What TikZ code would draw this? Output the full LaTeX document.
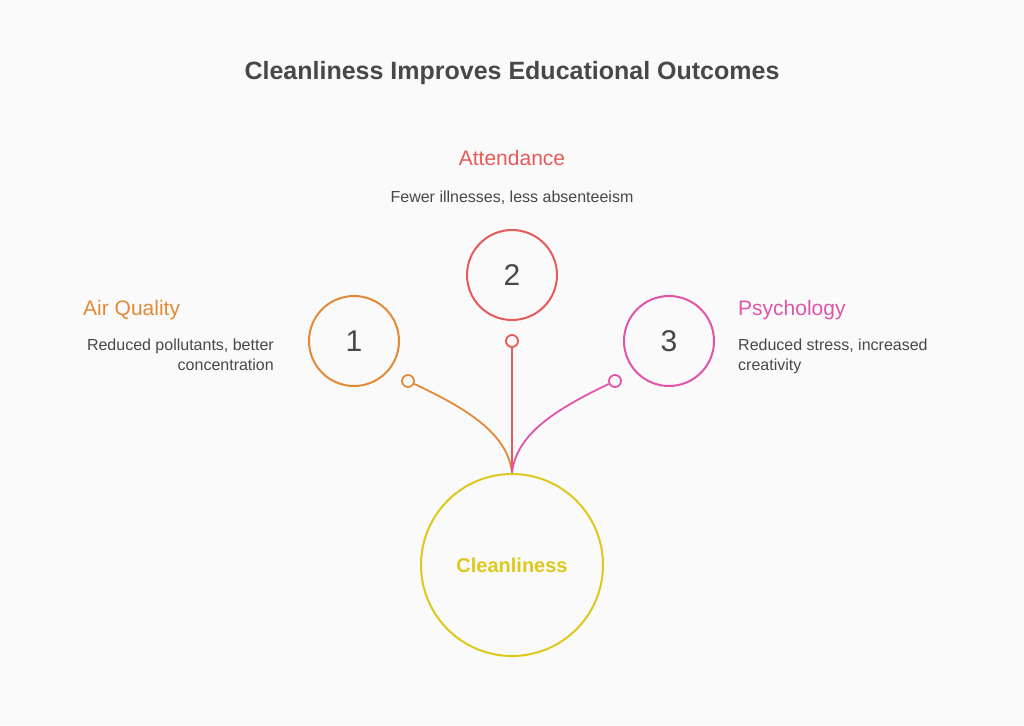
\documentclass[tikz,border=0pt]{standalone}
\usepackage{fontspec}
\setmainfont{Liberation Sans}
\usepackage{tikz}

\definecolor{bgcol}{HTML}{FAFAFA}
\definecolor{txtcol}{HTML}{484848}
\definecolor{orangecol}{HTML}{E38A38}
\definecolor{redcol}{HTML}{E65A5A}
\definecolor{pinkcol}{HTML}{E055AA}
\definecolor{yellowcol}{HTML}{DEC81C}

\begin{document}
\begin{tikzpicture}[x=1pt,y=-1pt,
    num/.style = {draw, circle, line width=2pt, minimum size=90pt, inner sep=0pt, text=txtcol, font=\fontsize{30}{32}\selectfont},
    dot/.style = {draw, circle, line width=1.8pt, minimum size=12pt, inner sep=0pt, fill=bgcol},
    head/.style = {font=\fontsize{21}{24}\selectfont, inner sep=0pt},
    desc/.style = {font=\fontsize{16}{20}\selectfont, text=txtcol, inner sep=0pt},
    link/.style = {line width=1.8pt}]
        \fill[bgcol] (0,0) rectangle (1024,725);
        \useasboundingbox (0,0) rectangle (1024,725);
        \node[font=\fontsize{25}{28}\selectfont\bfseries, text=txtcol] (title) at (512,73) {Cleanliness Improves Educational Outcomes};
        \node[draw=yellowcol, circle, line width=2pt, minimum size=182pt, text=yellowcol, font=\fontsize{20}{22}\selectfont\bfseries] (core) at (512,565) {Cleanliness};
        \node[num, draw=orangecol] (1) at (354,341) {1};
        \node[num, draw=redcol] (2) at (512,275) {2};
        \node[num, draw=pinkcol] (3) at (669,341) {3};
        \node[dot, draw=orangecol] (d1) at (408,381) {};
        \node[dot, draw=redcol] (d2) at (512,341) {};
        \node[dot, draw=pinkcol] (d3) at (615,381) {};
        \draw[link, orangecol] (d1) .. controls (470,410) and (508,435) .. (core.north);
        \draw[link, redcol] (d2) -- (core.north);
        \draw[link, pinkcol] (d3) .. controls (554,410) and (516,435) .. (core.north);
        \node[head, text=redcol] (h2) at (512,158) {Attendance};
        \node[desc] (t2) at (512,198) {Fewer illnesses, less absenteeism};
        \node[head, text=orangecol, anchor=west] (h1) at (83,310) {Air Quality};
        \node[desc, anchor=north east, align=right] (t1) at (274,339) {Reduced pollutants, better\\concentration};
        \node[head, text=pinkcol, anchor=west] (h3) at (738,310) {Psychology};
        \node[desc, anchor=north west, align=left] (t3) at (738,339) {Reduced stress, increased\\creativity};
\end{tikzpicture}
\end{document}
